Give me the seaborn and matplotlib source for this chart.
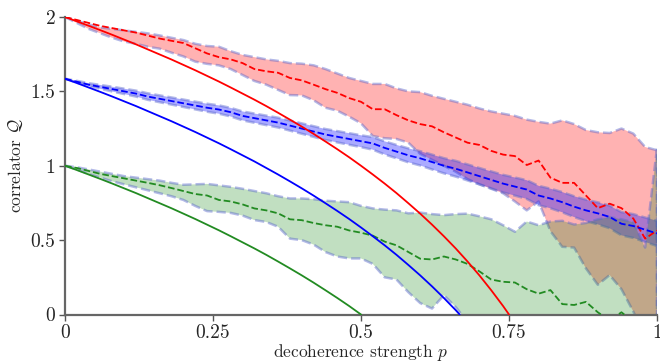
import numpy as np
import pandas as pd
import matplotlib
matplotlib.use("Agg")
import matplotlib.pyplot as plt
import seaborn as sns

# decoherence strength grid
p_grid = np.round(np.linspace(0, 1, 51), 2)

# ---- numerical (dashed) means and band bounds ----
red_mean = [2.0, 1.98, 1.96, 1.94, 1.925, 1.91, 1.895, 1.875, 1.855, 1.84, 1.825, 1.79, 1.755,
            1.73, 1.715, 1.69, 1.65, 1.635, 1.625, 1.59, 1.574, 1.545, 1.515, 1.49, 1.455, 1.43,
            1.38, 1.38, 1.34, 1.305, 1.28, 1.265, 1.225, 1.19, 1.155, 1.14, 1.10, 1.075, 1.065,
            1.005, 1.035, 0.92, 0.885, 0.885, 0.80, 0.715, 0.745, 0.715, 0.645, 0.51, 0.565]
red_upper = [2.0, 1.975, 1.95, 1.93, 1.92, 1.91, 1.90, 1.89, 1.876, 1.86, 1.845, 1.82, 1.805,
             1.80, 1.77, 1.745, 1.73, 1.715, 1.705, 1.69, 1.686, 1.675, 1.65, 1.62, 1.59, 1.57,
             1.55, 1.55, 1.52, 1.50, 1.495, 1.47, 1.45, 1.43, 1.41, 1.385, 1.365, 1.35, 1.335,
             1.31, 1.295, 1.283, 1.305, 1.28, 1.24, 1.225, 1.22, 1.25, 1.216, 1.126, 1.104]
red_lower = [2.0, 1.96, 1.92, 1.89, 1.86, 1.835, 1.82, 1.80, 1.787, 1.76, 1.735, 1.70, 1.685,
             1.675, 1.65, 1.61, 1.57, 1.545, 1.51, 1.475, 1.473, 1.44, 1.39, 1.37, 1.33, 1.285,
             1.20, 1.185, 1.18, 1.155, 1.08, 1.04, 1.00, 0.96, 0.91, 0.875, 0.845, 0.815, 0.76,
             0.70, 0.76, 0.56, 0.455, 0.45, 0.31, 0.20, 0.265, 0.17, 0.02, -0.15, -0.4]

blue_mean = [1.585, 1.565, 1.545, 1.53, 1.515, 1.50, 1.485, 1.465, 1.45, 1.435, 1.42, 1.405, 1.39,
             1.378, 1.36, 1.335, 1.32, 1.305, 1.29, 1.27, 1.25, 1.23, 1.21, 1.195, 1.18, 1.165,
             1.15, 1.12, 1.095, 1.07, 1.05, 1.025, 1.00, 0.98, 0.955, 0.93, 0.905, 0.88, 0.86,
             0.84, 0.80, 0.78, 0.755, 0.725, 0.70, 0.68, 0.656, 0.61, 0.595, 0.57, 0.545]
blue_upper = [1.585, 1.571, 1.555, 1.543, 1.531, 1.518, 1.505, 1.487, 1.473, 1.459, 1.445, 1.431,
              1.417, 1.406, 1.389, 1.365, 1.351, 1.337, 1.323, 1.304, 1.285, 1.266, 1.247, 1.233,
              1.219, 1.205, 1.192, 1.164, 1.140, 1.117, 1.098, 1.075, 1.051, 1.033, 1.009, 0.985,
              0.962, 0.939, 0.921, 0.903, 0.865, 0.846, 0.823, 0.795, 0.772, 0.754, 0.732, 0.688,
              0.675, 0.652, 0.630]
blue_lower = [1.585, 1.559, 1.535, 1.517, 1.499, 1.482, 1.465, 1.443, 1.427, 1.411, 1.395, 1.379,
              1.363, 1.350, 1.331, 1.305, 1.289, 1.273, 1.257, 1.236, 1.215, 1.194, 1.173, 1.157,
              1.141, 1.125, 1.108, 1.076, 1.050, 1.023, 1.002, 0.975, 0.949, 0.927, 0.901, 0.875,
              0.848, 0.821, 0.799, 0.777, 0.735, 0.714, 0.687, 0.655, 0.628, 0.606, 0.580, 0.532,
              0.515, 0.488, 0.460]

green_mean = [1.0, 0.985, 0.965, 0.945, 0.93, 0.915, 0.90, 0.885, 0.869, 0.85, 0.83, 0.81, 0.80,
              0.77, 0.76, 0.74, 0.713, 0.70, 0.68, 0.64, 0.634, 0.615, 0.60, 0.59, 0.565, 0.55,
              0.53, 0.49, 0.465, 0.42, 0.375, 0.37, 0.39, 0.37, 0.34, 0.29, 0.235, 0.22, 0.215,
              0.17, 0.14, 0.164, 0.07, 0.064, 0.085, 0.015, -0.04, 0.015, -0.05, -0.1, -0.08]
green_upper = [1.0, 0.99, 0.975, 0.96, 0.945, 0.93, 0.92, 0.91, 0.90, 0.885, 0.872, 0.875, 0.878,
               0.868, 0.858, 0.845, 0.83, 0.815, 0.795, 0.78, 0.78, 0.775, 0.765, 0.76, 0.755,
               0.73, 0.713, 0.705, 0.70, 0.68, 0.685, 0.675, 0.668, 0.675, 0.678, 0.66, 0.64,
               0.60, 0.556, 0.625, 0.60, 0.625, 0.63, 0.605, 0.615, 0.64, 0.655, 0.64, 0.62,
               0.45, 1.12]
green_lower = [1.0, 0.975, 0.945, 0.92, 0.895, 0.875, 0.855, 0.835, 0.815, 0.795, 0.77, 0.73,
               0.695, 0.69, 0.683, 0.665, 0.635, 0.622, 0.59, 0.51, 0.50, 0.47, 0.42, 0.39, 0.377,
               0.377, 0.34, 0.25, 0.235, 0.15, 0.077, 0.04, 0.13, 0.05, -0.05, -0.1, -0.15, -0.2,
               -0.25, -0.3, -0.3, -0.35, -0.4, -0.4, -0.45, -0.5, -0.5, -0.55, -0.55, -0.6, -0.6]

# ---- analytic (solid) curves ----
p_green = list(p_grid[:26])
green_solid = [1.0, 0.971, 0.941, 0.911, 0.880, 0.848, 0.816, 0.782, 0.748, 0.714, 0.678, 0.642,
               0.604, 0.566, 0.526, 0.485, 0.444, 0.401, 0.356, 0.310, 0.263, 0.214, 0.163,
               0.111, 0.057, 0.0]
p_blue = list(p_grid[:34]) + [0.6667]
blue_solid = [1.585, 1.556, 1.526, 1.496, 1.465, 1.433, 1.401, 1.367, 1.333, 1.299, 1.263, 1.227,
              1.189, 1.151, 1.111, 1.070, 1.029, 0.985, 0.941, 0.895, 0.848, 0.799, 0.748, 0.696,
              0.642, 0.585, 0.526, 0.465, 0.401, 0.333, 0.263, 0.189, 0.111, 0.029, 0.0]
p_red = list(p_grid[:38]) + [0.75]
red_solid = [2.0, 1.971, 1.941, 1.911, 1.880, 1.848, 1.816, 1.782, 1.748, 1.714, 1.678, 1.642,
             1.604, 1.566, 1.526, 1.485, 1.444, 1.401, 1.356, 1.310, 1.263, 1.214, 1.163, 1.111,
             1.057, 1.0, 0.941, 0.880, 0.816, 0.748, 0.678, 0.604, 0.526, 0.444, 0.356, 0.263,
             0.163, 0.057, 0.0]

x_ticks = [0, 0.25, 0.5, 0.75, 1]
x_ticklabels = ["0", "0.25", "0.5", "0.75", "1"]
y_ticks = [0, 0.5, 1, 1.5, 2]
y_ticklabels = ["0", "0.5", "1", "1.5", "2"]

sns.set_style("ticks")
plt.rcParams["font.family"] = ["cmr10", "DejaVu Serif"]
plt.rcParams["mathtext.fontset"] = "cm"
plt.rcParams["axes.unicode_minus"] = False

fig = plt.figure(figsize=(6.6, 3.64), dpi=100)
ax = fig.add_axes([65 / 660, 1 - 314.5 / 364, (657 - 65) / 660, (314.5 - 17) / 364])

df = pd.DataFrame({"p": p_grid, "rm": red_mean, "ru": red_upper, "rl": red_lower,
                   "bm": blue_mean, "bu": blue_upper, "bl": blue_lower,
                   "gm": green_mean, "gu": green_upper, "gl": green_lower})

edge = (0.35, 0.4, 0.8, 0.45)
bands = [("ru", "rl", (1.0, 0.0, 0.0, 0.30)),
         ("bu", "bl", (0.0, 0.0, 1.0, 0.33)),
         ("gu", "gl", (0.13, 0.55, 0.13, 0.28))]
for up, lo, fc in bands:
    ax.fill_between(df["p"], df[lo], df[up], facecolor=fc, edgecolor=edge,
                    linestyle="--", linewidth=1.8, zorder=1)

for col, c in [("rm", "red"), ("bm", "blue"), ("gm", "forestgreen")]:
    sns.lineplot(data=df, x="p", y=col, ax=ax, color=c, linestyle="--", linewidth=1.3, zorder=3)

sns.lineplot(x=p_red, y=red_solid, ax=ax, color="red", linewidth=1.3, zorder=4)
sns.lineplot(x=p_blue, y=blue_solid, ax=ax, color="blue", linewidth=1.3, zorder=4)
sns.lineplot(x=p_green, y=green_solid, ax=ax, color="forestgreen", linewidth=1.3, zorder=4)

ax.set_xlim(0, 1)
ax.set_ylim(0, 2)
ax.set_xticks(x_ticks)
ax.set_xticklabels(x_ticklabels)
ax.set_yticks(y_ticks)
ax.set_yticklabels(y_ticklabels)
ax.tick_params(labelsize=14, length=4, width=1, color="#555555", pad=3)
for s in ["top", "right"]:
    ax.spines[s].set_visible(False)
for s in ["left", "bottom"]:
    ax.spines[s].set_color("#666666")
    ax.spines[s].set_linewidth(1.6)
ax.set_xlabel(r"decoherence strength $p$", fontsize=12.5, labelpad=0)
ax.set_ylabel(r"correlator $\mathcal{Q}$", fontsize=12.5, labelpad=4)

fig.savefig("out.png", dpi=100)
